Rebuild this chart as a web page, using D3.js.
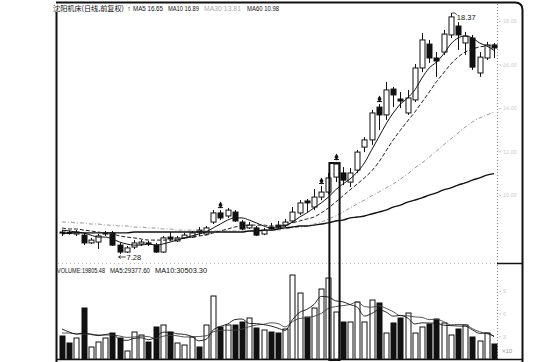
<!DOCTYPE html>
<html>
<head>
<meta charset="utf-8">
<script src="https://cdn.jsdelivr.net/npm/d3@7"></script>
<style>
html, body { margin: 0; padding: 0; background: #fff; }
svg { display: block; }
text { font-family: "Liberation Sans", Arial, sans-serif; }
</style>
</head>
<body>
<svg id="chart" width="551" height="362"></svg>
<script>
// trading days (61 sessions shown)
const days = d3.range(61)

const open = [8.29, 8.27, 8.20, 8.15, 7.79, 7.83, 8.20, 8.25, 7.69, 7.37,
    7.60, 7.74, 7.79, 7.69, 7.37, 8.06, 7.88, 8.02, 8.06, 8.38,
    8.20, 8.75, 9.17, 9.03, 9.21, 8.75, 8.48, 8.48, 8.20, 8.52,
    8.61, 8.61, 8.80, 9.17, 9.72, 9.44, 9.90, 10.13, 10.82, 11.01,
    10.59, 11.14, 12.20, 12.53, 14.04, 13.68, 14.87, 14.41, 13.77, 14.37,
    15.84, 16.94, 16.30, 16.57, 17.36, 17.77, 16.99, 17.22, 15.61, 16.30,
    16.90]
const high = [8.38, 8.36, 8.38, 8.25, 8.02, 8.20, 8.34, 8.34, 7.79, 7.65,
    7.92, 7.92, 7.88, 7.79, 8.11, 8.29, 8.11, 8.25, 8.34, 8.52,
    8.57, 9.30, 9.30, 9.40, 9.30, 8.84, 8.75, 8.57, 8.48, 8.71,
    8.80, 8.89, 9.44, 9.76, 9.81, 10.27, 10.41, 11.01, 11.51, 11.28,
    11.24, 12.07, 12.66, 13.91, 14.18, 15.20, 14.97, 14.73, 14.83, 16.02,
    17.45, 17.13, 16.57, 17.59, 18.37, 17.95, 17.50, 17.36, 16.57, 17.04,
    16.99]
const low = [8.11, 8.17, 8.11, 7.69, 7.74, 7.51, 8.11, 7.65, 7.28, 7.33,
    7.51, 7.65, 7.65, 7.33, 7.33, 7.88, 7.83, 7.97, 8.02, 8.11,
    8.15, 8.66, 8.84, 8.94, 8.75, 8.38, 8.43, 8.11, 8.15, 8.34,
    8.43, 8.52, 8.71, 9.07, 9.21, 9.30, 9.76, 10.04, 10.59, 10.45,
    10.36, 11.01, 11.97, 12.30, 12.98, 13.45, 14.04, 13.99, 13.68, 14.27,
    15.65, 16.07, 15.43, 16.44, 17.22, 16.67, 16.44, 15.75, 15.43, 16.21,
    16.30]
const close = [8.25, 8.24, 8.29, 7.79, 7.92, 8.11, 8.25, 7.69, 7.37, 7.56,
    7.79, 7.83, 7.74, 7.37, 8.02, 7.97, 8.02, 8.15, 8.25, 8.29,
    8.48, 9.17, 8.94, 9.30, 8.80, 8.43, 8.61, 8.15, 8.38, 8.43,
    8.52, 8.75, 9.21, 9.63, 9.63, 9.90, 10.13, 10.78, 11.42, 10.68,
    11.01, 11.97, 12.53, 13.77, 13.68, 14.83, 14.60, 14.32, 14.46, 15.84,
    17.13, 16.30, 16.16, 17.40, 18.19, 17.36, 17.31, 15.88, 16.34, 16.90,
    16.76]

// moving averages as printed on the chart
const ma5 = [8.38, 8.34, 8.29, 8.25, 8.15, 8.06, 8.06, 7.97, 7.83, 7.74,
    7.69, 7.69, 7.74, 7.69, 7.74, 7.83, 7.92, 8.02, 8.11, 8.20,
    8.29, 8.48, 8.66, 8.84, 8.94, 8.94, 8.84, 8.71, 8.57, 8.48,
    8.48, 8.57, 8.75, 8.98, 9.17, 9.40, 9.63, 9.90, 10.23, 10.50,
    10.73, 11.05, 11.47, 12.07, 12.66, 13.26, 13.77, 14.18, 14.46, 14.83,
    15.38, 15.84, 16.11, 16.48, 16.94, 17.22, 17.31, 17.22, 16.99, 16.85,
    16.65]
const ma10 = [8.48, 8.43, 8.43, 8.38, 8.34, 8.29, 8.25, 8.20, 8.11, 8.06,
    8.02, 7.97, 7.92, 7.92, 7.92, 7.92, 7.97, 8.02, 8.06, 8.11,
    8.15, 8.25, 8.34, 8.43, 8.52, 8.57, 8.61, 8.61, 8.61, 8.57,
    8.57, 8.61, 8.71, 8.80, 8.89, 8.98, 9.17, 9.40, 9.67, 9.95,
    10.23, 10.50, 10.78, 11.10, 11.51, 12.02, 12.53, 12.98, 13.40, 13.81,
    14.27, 14.73, 15.20, 15.61, 16.02, 16.34, 16.57, 16.71, 16.81, 16.85,
    16.89]
const ma30 = [8.75, 8.75, 8.71, 8.71, 8.66, 8.66, 8.61, 8.61, 8.57, 8.57,
    8.52, 8.52, 8.48, 8.48, 8.43, 8.43, 8.38, 8.38, 8.38, 8.34,
    8.34, 8.34, 8.34, 8.34, 8.34, 8.34, 8.34, 8.34, 8.34, 8.38,
    8.38, 8.43, 8.48, 8.52, 8.57, 8.66, 8.75, 8.89, 9.03, 9.21,
    9.40, 9.58, 9.76, 9.95, 10.13, 10.32, 10.50, 10.73, 10.96, 11.24,
    11.47, 11.74, 12.02, 12.30, 12.57, 12.85, 13.12, 13.35, 13.54, 13.68,
    13.81]
const ma60 = [8.20, 8.25, 8.25, 8.25, 8.25, 8.25, 8.25, 8.25, 8.25, 8.25,
    8.29, 8.29, 8.29, 8.29, 8.29, 8.29, 8.29, 8.29, 8.29, 8.29,
    8.29, 8.29, 8.29, 8.29, 8.29, 8.29, 8.34, 8.34, 8.38, 8.38,
    8.43, 8.48, 8.52, 8.57, 8.57, 8.61, 8.66, 8.71, 8.80, 8.84,
    8.94, 8.98, 9.03, 9.12, 9.21, 9.30, 9.44, 9.53, 9.67, 9.76,
    9.86, 9.99, 10.09, 10.23, 10.32, 10.45, 10.55, 10.68, 10.78, 10.91,
    10.98]

const volume = [30360, 21120, 27720, 67320, 15840, 22440, 27720, 34320, 27720, 10560,
    35640, 31680, 22440, 42240, 44880, 35640, 21120, 18480, 29040, 15840,
    44880, 83160, 42240, 44880, 44880, 48840, 54120, 40920, 38280, 35640,
    34320, 39600, 110880, 87120, 55440, 67320, 92400, 106920, 62040, 48840,
    48840, 75240, 48840, 77880, 73920, 34320, 47520, 54120, 60720, 34320,
    42240, 46200, 52800, 47520, 31680, 39600, 44880, 29040, 23760, 34320,
    19805.48]
const volMa5 = [39600, 35640, 33000, 34320, 32470, 30890, 32210, 33530, 25610, 24550,
    27190, 27980, 25610, 28510, 35380, 35380, 33260, 32470, 29830, 24020,
    25870, 38280, 43030, 46200, 52010, 52800, 46990, 46730, 45410, 43560,
    40660, 37750, 51740, 61510, 65470, 72070, 82630, 81840, 76820, 75500,
    71810, 68380, 56760, 59930, 64940, 62040, 56500, 57550, 54120, 46200,
    47780, 47520, 47260, 44620, 44090, 43560, 43300, 38540, 33790, 34320,
    29377.6]
const volMa10 = [34320, 34320, 33000, 33000, 33000, 31680, 31680, 31680, 30360, 28510,
    29040, 30100, 29570, 27060, 29960, 31280, 30620, 29040, 29170, 29700,
    30620, 35770, 37750, 38020, 38020, 39340, 42640, 44880, 45800, 47780,
    46730, 42370, 49240, 53460, 54520, 56360, 60190, 66790, 69170, 70490,
    71940, 75500, 69300, 68380, 70220, 66920, 62440, 57160, 57020, 55570,
    54910, 52010, 52400, 49370, 45140, 45670, 45410, 40000, 36000, 33500,
    30503.3]

// days carrying an information marker, and the boxed day
const markerDays = [22, 36, 38, 44]
const boxedDay = 38

const svg = d3.select("#chart")

// scales
const x = d3.scalePoint().domain(days).range([62, 494])
const yPrice = d3.scaleLinear().domain([7.28, 18.37]).range([254, 13])
const yVol = d3.scaleLinear().domain([0, 120000]).range([359, 268.1])
const bodyW = 5

const isUp = i => close[i] >= open[i]
const px = i => Math.round(x(i)) + 0.5

// ---- frame
svg.append("path")
    .attr("d", "M56,2.5 H515 Q522.5,2.5 522.5,10 V362")
    .attr("fill", "none").attr("stroke", "#111").attr("stroke-width", 2)
svg.append("line")
    .attr("x1", 56.5).attr("x2", 56.5).attr("y1", 12).attr("y2", 362)
    .attr("stroke", "#111").attr("stroke-width", 2)
svg.append("line")
    .attr("x1", 497.5).attr("x2", 497.5).attr("y1", 4).attr("y2", 359)
    .attr("stroke", "#888").attr("stroke-dasharray", "1,2")
svg.append("line")
    .attr("x1", 497).attr("x2", 522).attr("y1", 263.5).attr("y2", 263.5)
    .attr("stroke", "#111").attr("stroke-width", 1.5)
svg.append("line")
    .attr("x1", 58).attr("x2", 497).attr("y1", 263.5).attr("y2", 263.5)
    .attr("stroke", "#bbb").attr("stroke-dasharray", "1,3")
svg.append("line")
    .attr("x1", 56).attr("x2", 522).attr("y1", 359.5).attr("y2", 359.5)
    .attr("stroke", "#111").attr("stroke-width", 1.5)

// faint right-hand axes (barely legible in the scan)
const axP = svg.append("g").attr("transform", "translate(499,0)")
    .call(d3.axisRight(yPrice).tickValues([10, 12, 14, 16, 18]).tickSize(2).tickFormat(d3.format(".2f")))
const axV = svg.append("g").attr("transform", "translate(499,0)")
    .call(d3.axisRight(yVol).tickValues([30000, 60000, 90000]).tickSize(2).tickFormat(d => d / 10000))
;[axP, axV].forEach(g => {
    g.select(".domain").remove()
    g.selectAll("line").attr("stroke", "#ccc")
    g.selectAll("text").attr("fill", "#ccc").attr("font-size", 5.5).attr("x", 4)
})
svg.append("text").attr("x", 502).attr("y", 353).attr("font-size", 6).attr("fill", "#999").text("×10")

// ---- candles
const cg = svg.append("g")
days.forEach(i => {
    const cx = px(i)
    cg.append("line")
        .attr("x1", cx).attr("x2", cx)
        .attr("y1", yPrice(high[i])).attr("y2", yPrice(low[i]))
        .attr("stroke", "#111").attr("stroke-width", 1)
    const top = yPrice(Math.max(open[i], close[i]))
    const bot = yPrice(Math.min(open[i], close[i]))
    cg.append("rect")
        .attr("x", cx - bodyW / 2).attr("y", top)
        .attr("width", bodyW).attr("height", Math.max(bot - top, 1))
        .attr("fill", isUp(i) ? "#fff" : "#111")
        .attr("stroke", "#111").attr("stroke-width", 1)
})

// information markers above some candles
markerDays.forEach(i => {
    const my = yPrice(high[i]) - 4
    cg.append("path")
        .attr("d", d3.symbol(d3.symbolDiamond, 14)())
        .attr("transform", `translate(${px(i)},${my - 1})`)
        .attr("fill", "#111")
    cg.append("line")
        .attr("x1", px(i) - 2.5).attr("x2", px(i) + 2.5)
        .attr("y1", my + 1.5).attr("y2", my + 1.5)
        .attr("stroke", "#111")
})

// ---- price moving averages
const priceLine = arr => d3.line()
    .x((d, i) => x(i)).y(d => yPrice(d))
    .curve(d3.curveMonotoneX)(arr)

svg.append("path").attr("d", priceLine(ma30))
    .attr("fill", "none").attr("stroke", "#9a9a9a").attr("stroke-width", 1)
    .attr("stroke-dasharray", "4,2,1,2")
svg.append("path").attr("d", priceLine(ma60))
    .attr("fill", "none").attr("stroke", "#111").attr("stroke-width", 1.4)
svg.append("path").attr("d", priceLine(ma10))
    .attr("fill", "none").attr("stroke", "#222").attr("stroke-width", 1)
    .attr("stroke-dasharray", "4,2")
svg.append("path").attr("d", priceLine(ma5))
    .attr("fill", "none").attr("stroke", "#111").attr("stroke-width", 1)

// ---- volume bars
const vg = svg.append("g")
days.forEach(i => {
    vg.append("rect")
        .attr("x", px(i) - bodyW / 2).attr("y", yVol(volume[i]))
        .attr("width", bodyW).attr("height", yVol(0) - yVol(volume[i]))
        .attr("fill", isUp(i) ? "#fff" : "#111")
        .attr("stroke", "#111").attr("stroke-width", 1)
})
const volLine = arr => d3.line()
    .x((d, i) => x(i)).y(d => yVol(d))
    .curve(d3.curveMonotoneX)(arr)
svg.append("path").attr("d", volLine(volMa10))
    .attr("fill", "none").attr("stroke", "#444").attr("stroke-width", 0.9)
svg.append("path").attr("d", volLine(volMa5))
    .attr("fill", "none").attr("stroke", "#111").attr("stroke-width", 0.9)

// ---- boxed day spanning both panels
svg.append("rect")
    .attr("x", x(boxedDay - 1) + 1).attr("y", yPrice(close[boxedDay]) - 1)
    .attr("width", x(boxedDay) - x(boxedDay - 1) + 3)
    .attr("height", 360 - (yPrice(close[boxedDay]) - 1))
    .attr("fill", "none").attr("stroke", "#111").attr("stroke-width", 2)

// ---- high / low labels
const hiIdx = d3.maxIndex(high), loIdx = d3.minIndex(low)
const hx = x(hiIdx), hy = yPrice(high[hiIdx])
svg.append("path").attr("d", `M${hx + 1},${hy} H${hx + 4} L${hx + 6},${hy + 2}`)
    .attr("fill", "none").attr("stroke", "#111").attr("stroke-width", 0.8)
svg.append("text").attr("x", hx + 6).attr("y", hy + 7)
    .attr("font-size", 7.5).attr("fill", "#111").text(high[hiIdx].toFixed(2))

const lx = x(loIdx), ly = yPrice(low[loIdx])
svg.append("path").attr("d", `M${lx - 1},${ly + 3} H${lx + 6} M${lx - 1},${ly + 3} l2,-1.5 M${lx - 1},${ly + 3} l2,1.5`)
    .attr("fill", "none").attr("stroke", "#111").attr("stroke-width", 0.8)
svg.append("text").attr("x", lx + 7).attr("y", ly + 6)
    .attr("font-size", 7.5).attr("fill", "#111").text(low[loIdx].toFixed(2))

// ---- titles
const title = [
    {t: "沈阳机床(日线,前复权)", x: 53, w: 71, c: "#111", f: '"Noto Sans CJK SC", sans-serif'},
    {t: "↑", x: 127, w: 4, c: "#111"},
    {t: "MA5 " + ma5[60].toFixed(2), x: 133, w: 30, c: "#111"},
    {t: "MA10 " + ma10[60].toFixed(2), x: 168, w: 31, c: "#111"},
    {t: "MA30 " + ma30[60].toFixed(2), x: 204, w: 37, c: "#aaa"},
    {t: "MA60 " + ma60[60].toFixed(2), x: 247, w: 32, c: "#111"},
]
title.forEach(d => {
    const t = svg.append("text").attr("x", d.x).attr("y", 10.5)
        .attr("font-size", 7).attr("fill", d.c)
        .attr("textLength", d.w).attr("lengthAdjust", "spacingAndGlyphs")
        .text(d.t)
    if (d.f) t.style("font-family", d.f)
})

const volTitle = [
    {t: "VOLUME:" + volume[60].toFixed(2), x: 57, w: 48},
    {t: "MA5:" + volMa5[60].toFixed(2), x: 110, w: 40},
    {t: "MA10:" + volMa10[60].toFixed(2), x: 155, w: 52},
]
volTitle.forEach(d => {
    svg.append("text").attr("x", d.x).attr("y", 273)
        .attr("font-size", 6.5).attr("fill", "#111")
        .attr("textLength", d.w).attr("lengthAdjust", "spacingAndGlyphs")
        .text(d.t)
})
</script>
</body>
</html>
